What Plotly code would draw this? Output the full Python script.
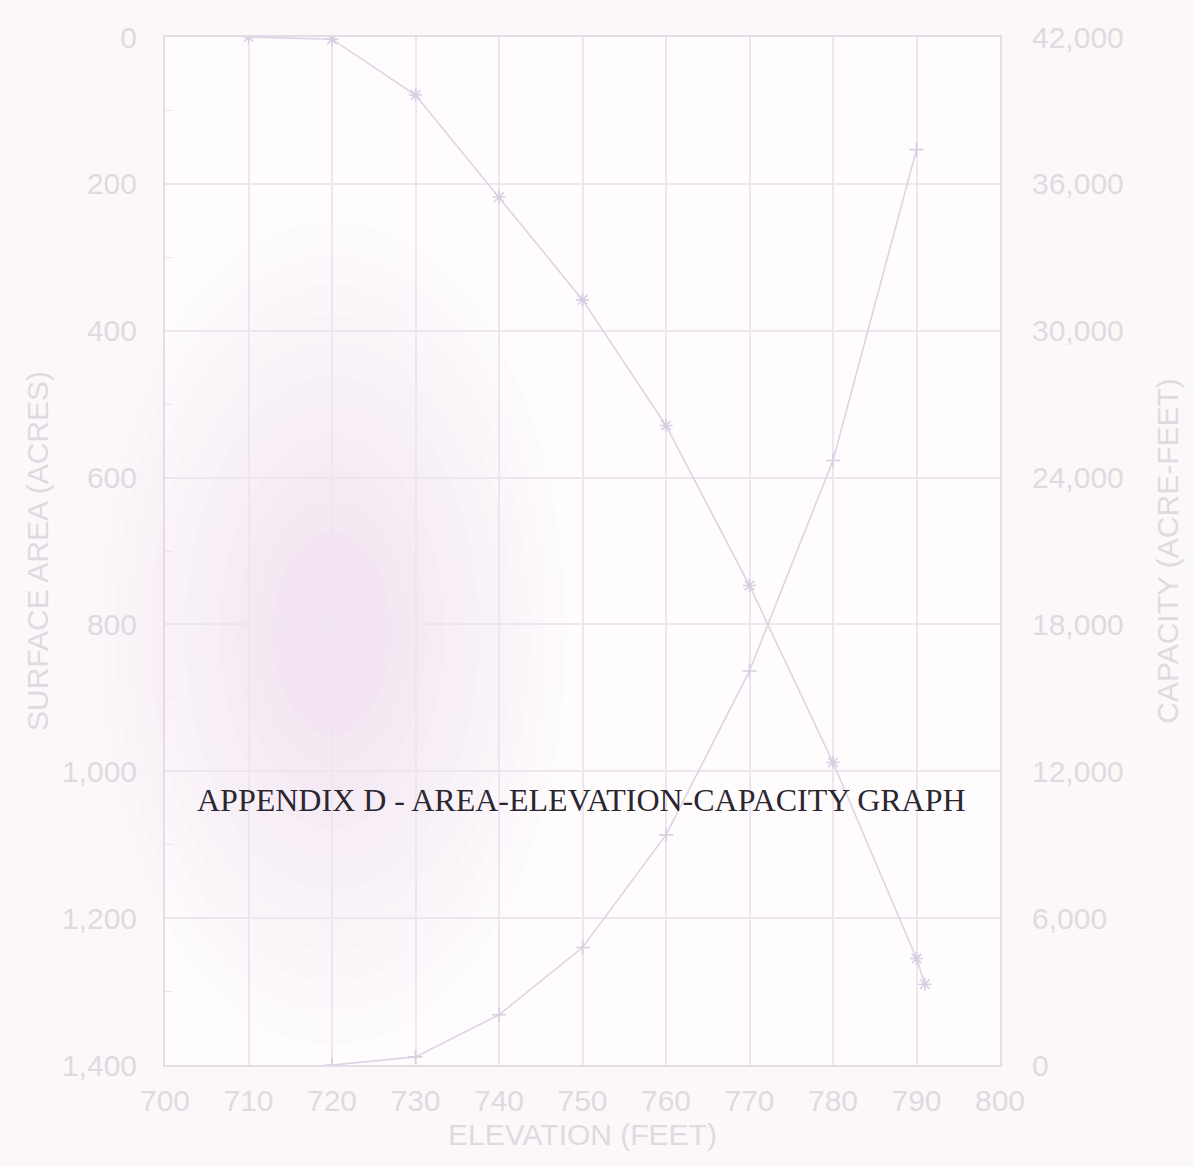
import plotly.graph_objects as go

# Area-elevation-capacity data for the reservoir
area_elevation = [710, 720, 730, 740, 750, 760, 770, 780, 790, 791]
surface_area_acres = [0, 3, 79, 218, 358, 529, 747, 988, 1255, 1290]

capacity_elevation = [720, 730, 740, 750, 760, 770, 780, 790]
capacity_acre_feet = [0, 330, 2050, 4800, 9400, 16100, 24700, 37400]

x_ticks = [700, 710, 720, 730, 740, 750, 760, 770, 780, 790, 800]
area_ticks = [0, 200, 400, 600, 800, 1000, 1200, 1400]
area_tick_text = ["0", "200", "400", "600", "800", "1,000", "1,200", "1,400"]
capacity_ticks = [0, 6000, 12000, 18000, 24000, 30000, 36000, 42000]
capacity_tick_text = ["0", "6,000", "12,000", "18,000", "24,000", "30,000", "36,000", "42,000"]

caption = "APPENDIX D - AREA-ELEVATION-CAPACITY GRAPH"

W, H = 1193, 1167
L, R, T, B = 165, 193, 37, 102

INK = "#e2d8e1"
GRID = "#eee6ee"
LINE = "#ddd3e4"
PAPER = "#fcf8fa"

fig = go.Figure()

fig.add_trace(go.Scatter(
    x=area_elevation, y=surface_area_acres, yaxis="y",
    mode="lines+markers",
    line=dict(color=LINE, width=1.6),
    marker=dict(symbol="asterisk-open", size=11, color="#d8cee3", line=dict(width=1.6, color="#d8cee3")),
    showlegend=False, hoverinfo="x+y",
))
fig.add_trace(go.Scatter(
    x=capacity_elevation, y=capacity_acre_feet, yaxis="y2",
    mode="lines+markers",
    line=dict(color=LINE, width=1.6),
    marker=dict(symbol="cross-thin-open", size=10, color="#d8cee3", line=dict(width=1.6, color="#d8cee3")),
    showlegend=False, hoverinfo="x+y",
))

# soft pink smudge over the left half of the sheet, built from many faint layers
shapes = []
cx, cy = 0.20, 0.42
n = 12
for i in range(n):
    f = 1.0 - i / n
    rx, ry = 0.25 * f + 0.03, 0.36 * f + 0.04
    shapes.append(dict(type="circle", xref="paper", yref="paper",
                       x0=cx - rx, y0=cy - ry, x1=cx + rx, y1=cy + ry,
                       fillcolor="#dc9cc6", opacity=0.016, line=dict(width=0), layer="below"))

tick_font = dict(family="Liberation Sans, Arial, sans-serif", size=30, color=INK)
title_font = dict(family="Liberation Sans, Arial, sans-serif", size=30, color=INK)

fig.update_layout(
    width=W, height=H,
    margin=dict(l=L, r=R, t=T, b=B, autoexpand=False),
    paper_bgcolor=PAPER,
    plot_bgcolor="rgba(255,255,255,0.6)",
    shapes=shapes,
    xaxis=dict(
        range=[700, 800], tickvals=x_ticks, ticktext=[str(v) for v in x_ticks],
        tickfont=tick_font, showgrid=True, gridcolor=GRID, gridwidth=1.5,
        showline=True, linecolor="#e6dbe6", linewidth=2, mirror=True,
        ticks="", zeroline=False, ticklabelstandoff=8,
        title=dict(text="ELEVATION (FEET)", font=title_font, standoff=8),
    ),
    yaxis=dict(
        range=[1400, 0], tickvals=area_ticks, ticktext=area_tick_text,
        tickfont=tick_font, showgrid=True, gridcolor=GRID, gridwidth=1.5,
        showline=True, linecolor="#e6dbe6", linewidth=2,
        ticks="", zeroline=False, ticklabelstandoff=20,
        minor=dict(tickvals=[100, 300, 500, 700, 900, 1100, 1300], ticks="inside",
                   ticklen=8, tickcolor=GRID, showgrid=False),
        title=dict(text="SURFACE AREA (ACRES)", font=title_font, standoff=4),
    ),
    yaxis2=dict(
        range=[0, 42000], tickvals=capacity_ticks, ticktext=capacity_tick_text,
        tickfont=tick_font, overlaying="y", side="right", showgrid=False,
        showline=True, linecolor="#e6dbe6", linewidth=2,
        ticks="", zeroline=False, ticklabelstandoff=24,
        title=dict(text="CAPACITY (ACRE-FEET)", font=title_font, standoff=34),
    ),
    annotations=[dict(
        text=caption, xref="paper", yref="paper", x=0.499, y=0.258,
        xanchor="center", yanchor="middle", showarrow=False,
        font=dict(family="Liberation Serif, Times New Roman, serif", size=32, color="#2b2630"),
    )],
)

fig.write_html("out.html")
